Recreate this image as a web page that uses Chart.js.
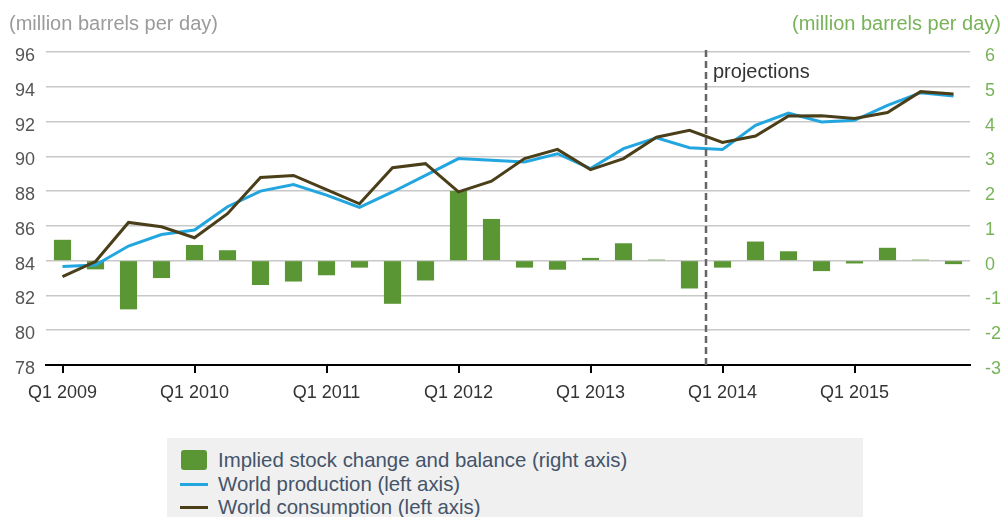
<!DOCTYPE html>
<html>
<head>
<meta charset="utf-8">
<script src="https://cdn.jsdelivr.net/npm/chart.js@4.4.1/dist/chart.umd.min.js"></script>
<style>
    body { margin: 0; background: #fff; font-family: "Liberation Sans", Arial, sans-serif; }
    #wrap { position: relative; width: 1005px; height: 517px; overflow: hidden; }
    #chart { position: absolute; left: 0; top: 0; }
    .unit { position: absolute; top: 11px; font-size: 20px; line-height: 24px; white-space: nowrap; }
    #legendBox { position: absolute; left: 167px; top: 438px; width: 696px; height: 79px; background: #f0f0f0; }
    .row { position: absolute; left: 13px; height: 24px; font-size: 20.4px; line-height: 24px; color: #44546a; white-space: nowrap; }
    .row span { position: absolute; left: 38px; top: 0; }
    .sw { position: absolute; left: 1px; top: 2px; width: 26px; height: 20px; border-radius: 3px; background: #5a9633; }
    .ln { position: absolute; left: 0; top: 11px; width: 28px; height: 3px; }
</style>
</head>
<body>
<div id="wrap">
    <canvas id="chart" width="1005" height="517"></canvas>
    <div class="unit" style="left:9px; color:#9b9b9b;">(million barrels per day)</div>
    <div class="unit" style="right:4px; color:#78b35a;">(million barrels per day)</div>
    <div id="legendBox">
        <div class="row" style="top:10px;"><div class="sw"></div><span>Implied stock change and balance (right axis)</span></div>
        <div class="row" style="top:34px;"><div class="ln" style="background:#22a6df;"></div><span>World production (left axis)</span></div>
        <div class="row" style="top:57px;"><div class="ln" style="background:#4b3f1a;"></div><span>World consumption (left axis)</span></div>
    </div>
</div>
<script>
// quarters Q1 2009 .. Q4 2015
let quarters = [
    'Q1 2009', 'Q2 2009', 'Q3 2009', 'Q4 2009',
    'Q1 2010', 'Q2 2010', 'Q3 2010', 'Q4 2010',
    'Q1 2011', 'Q2 2011', 'Q3 2011', 'Q4 2011',
    'Q1 2012', 'Q2 2012', 'Q3 2012', 'Q4 2012',
    'Q1 2013', 'Q2 2013', 'Q3 2013', 'Q4 2013',
    'Q1 2014', 'Q2 2014', 'Q3 2014', 'Q4 2014',
    'Q1 2015', 'Q2 2015', 'Q3 2015', 'Q4 2015'
]
let stockChange = [
    0.6, -0.25, -1.4, -0.5,
    0.45, 0.3, -0.7, -0.6,
    -0.42, -0.2, -1.24, -0.57,
    2.0, 1.2, -0.2, -0.26,
    0.08, 0.5, 0.03, -0.8,
    -0.2, 0.55, 0.27, -0.3,
    -0.08, 0.37, 0.03, -0.1
]
let production = [
    83.66, 83.75, 84.84, 85.5,
    85.76, 87.1, 88.0, 88.38,
    87.77, 87.06, 87.95, 88.91,
    89.87, 89.77, 89.67, 90.15,
    89.3, 90.44, 91.07, 90.5,
    90.4, 91.78, 92.49, 91.98,
    92.07, 92.93, 93.66, 93.47
]
let consumption = [
    83.08, 83.95, 86.2, 85.95,
    85.32, 86.7, 88.78, 88.9,
    88.09, 87.27, 89.35, 89.58,
    87.96, 88.57, 89.87, 90.4,
    89.24, 89.87, 91.1, 91.5,
    90.8, 91.17, 92.32, 92.34,
    92.18, 92.52, 93.72, 93.58
]
let leftTicks = { min: 78, max: 96, step: 2 }
let rightTicks = { min: -3, max: 6, step: 1 }
let projectionStart = 'Q1 2014'

// dashed line + "projections" label between Q4 2013 and Q1 2014
const projectionLine = {
    id: 'projectionLine',
    afterDatasetsDraw(chart) {
        let x = chart.scales.x
        let i = quarters.indexOf(projectionStart)
        let px = (x.getPixelForValue(i - 1) + x.getPixelForValue(i)) / 2
        let ctx = chart.ctx
        ctx.save()
        ctx.strokeStyle = '#666'
        ctx.lineWidth = 2.5
        ctx.setLineDash([7, 4])
        ctx.beginPath()
        ctx.moveTo(px, chart.chartArea.top - 2)
        ctx.lineTo(px, chart.chartArea.bottom)
        ctx.stroke()
        ctx.setLineDash([])
        ctx.fillStyle = '#333'
        ctx.font = '20px "Liberation Sans", Arial, sans-serif'
        ctx.textBaseline = 'middle'
        ctx.fillText('projections', px + 7, chart.chartArea.top + 20)
        ctx.restore()
    }
}

let tickFont = { family: '"Liberation Sans", Arial, sans-serif', size: 18 }

new Chart(document.getElementById('chart'), {
    type: 'bar',
    data: {
        labels: quarters,
        datasets: [
            {
                type: 'line',
                label: 'World consumption (left axis)',
                data: consumption,
                borderColor: '#4b3f1a',
                borderWidth: 3,
                pointRadius: 0,
                tension: 0,
                yAxisID: 'y',
                order: 1
            },
            {
                type: 'line',
                label: 'World production (left axis)',
                data: production,
                borderColor: '#22a6df',
                borderWidth: 3,
                pointRadius: 0,
                tension: 0,
                yAxisID: 'y',
                order: 2
            },
            {
                label: 'Implied stock change and balance (right axis)',
                data: stockChange,
                backgroundColor: '#5a9633',
                barPercentage: 0.52,
                categoryPercentage: 1,
                yAxisID: 'y1',
                order: 3
            }
        ]
    },
    options: {
        responsive: false,
        animation: false,
        layout: { padding: { top: 52, left: 0, right: 0, bottom: 0 } },
        plugins: {
            legend: { display: false },
            tooltip: { enabled: false }
        },
        scales: {
            x: {
                offset: true,
                grid: {
                    offset: false,
                    drawOnChartArea: false,
                    drawTicks: true,
                    tickLength: 8,
                    lineWidth: 2,
                    color: (c) => (c.index % 4 === 0 ? '#000' : 'rgba(0,0,0,0)')
                },
                border: { color: '#000', width: 2 },
                ticks: {
                    autoSkip: false,
                    maxRotation: 0,
                    color: '#333',
                    font: tickFont,
                    padding: 9,
                    callback: (v, i) => (i % 4 === 0 ? quarters[i] : '')
                },
                afterFit: (s) => { s.height = 152 }
            },
            y: {
                position: 'left',
                min: leftTicks.min,
                max: leftTicks.max,
                ticks: { stepSize: leftTicks.step, color: '#555', font: tickFont, padding: 11, labelOffset: 4 },
                grid: { color: '#c8c8c8', lineWidth: 1.5, drawTicks: false },
                border: { display: false },
                afterFit: (s) => { s.width = 46 }
            },
            y1: {
                position: 'right',
                min: rightTicks.min,
                max: rightTicks.max,
                ticks: { stepSize: rightTicks.step, color: '#78b35a', font: tickFont, padding: 15, labelOffset: 4 },
                grid: { drawOnChartArea: false, drawTicks: false },
                border: { display: false },
                afterFit: (s) => { s.width = 35 }
            }
        }
    },
    plugins: [projectionLine]
})
</script>
</body>
</html>
